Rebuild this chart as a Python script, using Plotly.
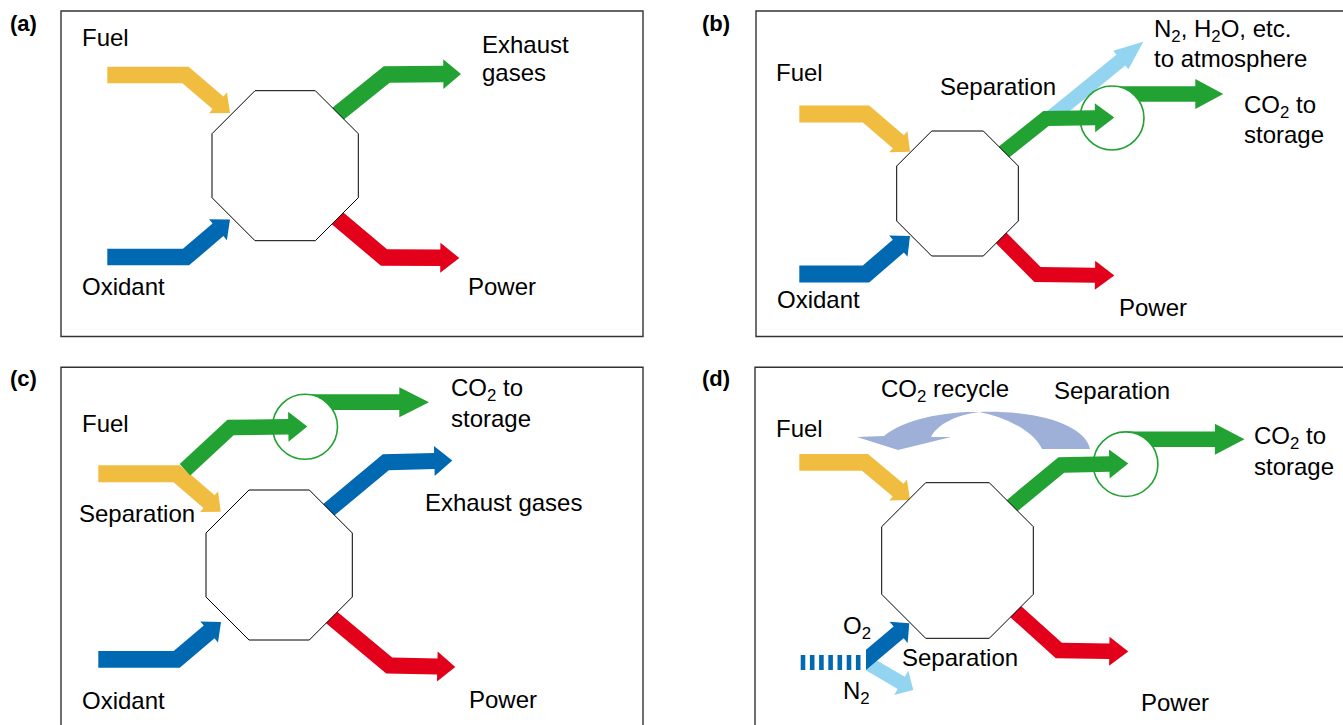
import numpy as np
import plotly.graph_objects as go

# ---------------- colours ----------------
YELLOW = "#F0BD40"
GREEN = "#21A232"
BLUE = "#0069B2"
RED = "#E3001B"
LIGHTBLUE = "#93D4F1"
RECYCLE = "#9EB0D8"

# ---------------- panel frames (x0, y0, x1, y1) ----------------
PANELS = [(61, 11, 643, 336.5), (756, 11, 1344, 336.5),
          (61, 367.3, 643, 730), (755, 367.3, 1344, 730)]

# ---------------- octagons (x0, y0, x1, y1, cut) ----------------
OCT_A = (212, 90.7, 358.3, 240.7, 43)
OCT_B = (896.7, 131, 1018.3, 256, 35)
OCT_C = (206, 490, 352.3, 640, 43)
OCT_D = (881.7, 482.7, 1033.3, 638.3, 44)

# ---------------- arrow centre lines ----------------
A_FUEL = [(107.3, 75), (185.5, 75), (230, 113)]
A_OXID = [(107.3, 257), (186, 257), (230, 219.5)]
A_EXH = [(327, 122.7), (386.7, 74.5), (461, 74)]
A_POW = [(327.3, 209.8), (384, 257.5), (459.3, 258)]

B_FUEL = [(799.3, 114), (866, 114), (910, 151.7)]
B_OXID = [(799.3, 274), (866, 274), (910, 236)]
B_CO2_IN = [(994.9, 159.2), (1046, 118.5), (1114.3, 117.5)]
B_CO2_OUT = [(1112, 94), (1223.3, 94)]
B_ATM = [(1050, 118), (1143.3, 41.7)]
B_POW = [(994.8, 231.5), (1037.5, 274.5), (1114.3, 275.5)]
B_CIRCLE = (1112, 118, 32)

C_FUEL = [(98.3, 473.7), (176.7, 473.7), (220.7, 511.7)]
C_CO2_IN = [(185, 469.7), (230.5, 427.5), (307.3, 426.5)]
C_CO2_OUT = [(305, 402.2), (429, 402.2)]
C_EXH = [(318.2, 518.6), (385.8, 462.2), (452.3, 460.5)]
C_OXID = [(98.3, 659.3), (176.7, 659.3), (221, 622)]
C_POW = [(321, 608.7), (389.2, 665.5), (455.3, 667)]
C_CIRCLE = (305, 426.8, 32.5)

D_FUEL = [(799.3, 462.3), (865, 462.3), (910, 500)]
D_CO2_IN = [(1000.9, 514.9), (1061.3, 465), (1128.3, 463.5)]
D_CO2_OUT = [(1125, 439.3), (1244.5, 439.3)]
D_POW = [(1003.9, 601), (1058.8, 650.5), (1128.3, 651.5)]
D_O2 = [(858, 666.7), (909.3, 623.3)]
D_N2 = [(858, 657.5), (913.3, 690)]
D_CIRCLE = (1125.6, 464.2, 32.3)
D_DASH_X = [800.7, 809.9, 819.1, 828.3, 837.5, 846.7, 855.9]
D_DASH_Y = (655, 670)
D_DASH_W = 4.6
D_RECYCLE_RIGHT = "M 1090,449 C 1086,428 1045,410 979,412 C 1000,416 1032,428 1042,449 Z"
D_RECYCLE_LEFT = ("M 979,412 C 950,411 905,418 884,436 L 857,437 L 898,450 L 951,437 "
                  "L 931,437 C 937,425 955,415 979,412 Z")

# ---------------- texts ----------------
LABELS = [("(a)", 10, 23, 22), ("(b)", 702, 23, 22),
          ("(c)", 10, 378, 22), ("(d)", 702, 378, 22)]
TEXTS = [
    ("Fuel", 81.7, 37, 24), ("Oxidant", 81.7, 286, 24),
    ("Exhaust", 481.7, 44, 24), ("gases", 481.7, 72, 24), ("Power", 468.3, 286, 24),
    ("Fuel", 776, 72.5, 24), ("Separation", 940, 86, 24),
    ("N<sub>2</sub>, H<sub>2</sub>O, etc.", 1154, 30, 24), ("to atmosphere", 1154, 58.5, 24),
    ("CO<sub>2</sub> to", 1244, 106, 24), ("storage", 1244, 134.5, 24),
    ("Oxidant", 776.7, 299, 24), ("Power", 1119.3, 307, 24),
    ("Fuel", 81.7, 423.5, 24), ("Separation", 79.3, 513, 24), ("Oxidant", 81.7, 700.5, 24),
    ("CO<sub>2</sub> to", 451, 389, 24), ("storage", 451, 418, 24),
    ("Exhaust gases", 425, 502, 24), ("Power", 469, 699, 24),
    ("Fuel", 776, 428, 24), ("CO<sub>2</sub> recycle", 880.7, 390, 24),
    ("Separation", 1053.5, 390, 24), ("CO<sub>2</sub> to", 1253.8, 437.5, 24),
    ("storage", 1253.8, 466, 24), ("O<sub>2</sub>", 843.3, 627, 24),
    ("N<sub>2</sub>", 843.3, 692, 24), ("Separation", 901.7, 657, 24),
    ("Power", 1141, 702.5, 24),
]

FONT = "Liberation Sans, Arial, Helvetica, sans-serif"


def _unit(v):
    return v / np.hypot(v[0], v[1])


def arrow_path(pts, w, hl, hw):
    p = np.array(pts, dtype=float)
    d_last = _unit(p[-1] - p[-2])
    base = p[-1] - hl * d_last
    shaft = [q for q in p[:-1]] + [base]
    left, right = [], []
    n = len(shaft)
    for i, q in enumerate(shaft):
        if i == 0:
            d = _unit(shaft[1] - shaft[0])
            off = np.array([-d[1], d[0]]) * w / 2
        elif i == n - 1:
            d = _unit(shaft[-1] - shaft[-2])
            off = np.array([-d[1], d[0]]) * w / 2
        else:
            d1 = _unit(shaft[i] - shaft[i - 1])
            d2 = _unit(shaft[i + 1] - shaft[i])
            n1 = np.array([-d1[1], d1[0]])
            n2 = np.array([-d2[1], d2[0]])
            m = _unit(n1 + n2)
            off = m * (w / 2) / np.dot(m, n1)
        left.append(q + off)
        right.append(q - off)
    nl = np.array([-d_last[1], d_last[0]])
    poly = left + [base + nl * hw / 2, p[-1], base - nl * hw / 2] + right[::-1]
    return "M " + " L ".join(f"{x:.2f},{y:.2f}" for x, y in poly) + " Z"


def octagon_path(o):
    x0, y0, x1, y1, c = o
    pts = [(x0 + c, y0), (x1 - c, y0), (x1, y0 + c), (x1, y1 - c),
           (x1 - c, y1), (x0 + c, y1), (x0, y1 - c), (x0, y0 + c)]
    return "M " + " L ".join(f"{x:.2f},{y:.2f}" for x, y in pts) + " Z"


shapes = []


def add_arrow(pts, color, w, hl, hw):
    shapes.append(dict(type="path", path=arrow_path(pts, w, hl, hw), fillcolor=color,
                       line=dict(width=0), xref="x", yref="y"))


def add_path(path, color):
    shapes.append(dict(type="path", path=path, fillcolor=color, line=dict(width=0),
                       xref="x", yref="y"))


def add_octagon(o):
    shapes.append(dict(type="path", path=octagon_path(o), fillcolor="white",
                       line=dict(color="black", width=1), xref="x", yref="y"))


def add_circle(c, fill=None, line=True):
    cx, cy, r = c
    shapes.append(dict(type="circle", x0=cx - r, y0=cy - r, x1=cx + r, y1=cy + r,
                       xref="x", yref="y",
                       fillcolor=fill if fill else "rgba(0,0,0,0)",
                       line=dict(color=GREEN, width=1.6) if line else dict(width=0)))


for x0, y0, x1, y1 in PANELS:
    shapes.append(dict(type="rect", x0=x0, y0=y0, x1=x1, y1=y1, xref="x", yref="y",
                       line=dict(color="#333333", width=1.4), fillcolor="rgba(0,0,0,0)"))

# panel (a)
add_arrow(A_FUEL, YELLOW, 16.7, 15.8, 27.5)
add_arrow(A_OXID, BLUE, 16.7, 15.8, 27.5)
add_arrow(A_EXH, GREEN, 16.5, 17.7, 29.7)
add_arrow(A_POW, RED, 16.5, 19, 30)
add_octagon(OCT_A)

# panel (b)
add_arrow(B_FUEL, YELLOW, 17, 15.4, 28)
add_arrow(B_OXID, BLUE, 17, 15.4, 28)
add_arrow(B_CO2_OUT, GREEN, 15.7, 28, 30)
add_circle(B_CIRCLE, fill="white", line=False)
add_arrow(B_ATM, LIGHTBLUE, 14, 29, 24)
add_arrow(B_CO2_IN, GREEN, 15, 19.3, 29)
add_arrow(B_POW, RED, 15, 19.3, 29)
add_octagon(OCT_B)
add_circle(B_CIRCLE)

# panel (c)
add_arrow(C_FUEL, YELLOW, 17, 15.4, 27.5)
add_arrow(C_CO2_OUT, GREEN, 15.7, 29.7, 30)
add_circle(C_CIRCLE, fill="white", line=False)
add_arrow(C_CO2_IN, GREEN, 15.5, 19, 30)
add_arrow(C_EXH, BLUE, 16, 18, 30)
add_arrow(C_OXID, BLUE, 16.7, 15.5, 27.5)
add_arrow(C_POW, RED, 16, 18, 30)
add_octagon(OCT_C)
add_circle(C_CIRCLE)

# panel (d)
add_path(D_RECYCLE_RIGHT, RECYCLE)
add_path(D_RECYCLE_LEFT, RECYCLE)
add_arrow(D_FUEL, YELLOW, 16.7, 15.5, 27.5)
add_arrow(D_CO2_OUT, GREEN, 15.5, 29.6, 31)
add_circle(D_CIRCLE, fill="white", line=False)
add_arrow(D_CO2_IN, GREEN, 15.5, 19, 29)
add_arrow(D_POW, RED, 15.5, 19, 29)
add_arrow(D_N2, LIGHTBLUE, 14, 14, 28)
add_arrow(D_O2, BLUE, 15.5, 14, 28)
shapes.append(dict(type="rect", x0=790, y0=640, x1=866, y1=692, xref="x", yref="y",
                   fillcolor="white", line=dict(width=0)))
for dx in D_DASH_X:
    shapes.append(dict(type="rect", x0=dx, y0=D_DASH_Y[0], x1=dx + D_DASH_W, y1=D_DASH_Y[1],
                       xref="x", yref="y", fillcolor=BLUE, line=dict(width=0)))
add_octagon(OCT_D)
add_circle(D_CIRCLE)

annotations = []
for t, x, y, s in LABELS:
    annotations.append(dict(text=f"<b>{t}</b>", x=x, y=y, xref="x", yref="y",
                            xanchor="left", yanchor="middle", showarrow=False,
                            borderpad=0, borderwidth=0,
                            font=dict(family=FONT, size=s, color="black")))
for t, x, y, s in TEXTS:
    annotations.append(dict(text=t, x=x, y=y, xref="x", yref="y",
                            xanchor="left", yanchor="middle", showarrow=False,
                            borderpad=0, borderwidth=0,
                            font=dict(family=FONT, size=s, color="black")))

fig = go.Figure()
fig.add_trace(go.Scatter(x=[0], y=[0], mode="markers", marker=dict(opacity=0),
                         hoverinfo="skip", showlegend=False))
fig.update_layout(
    width=1343, height=725, margin=dict(l=0, r=0, t=0, b=0),
    paper_bgcolor="white", plot_bgcolor="white",
    xaxis=dict(range=[0, 1343], visible=False, fixedrange=True),
    yaxis=dict(range=[725, 0], visible=False, fixedrange=True),
    shapes=shapes, annotations=annotations, showlegend=False,
)
fig.write_html("out.html", config={"displayModeBar": False},
               post_script="document.body.style.margin='0';document.body.style.padding='0';"
                           "document.body.style.overflow='hidden';")
